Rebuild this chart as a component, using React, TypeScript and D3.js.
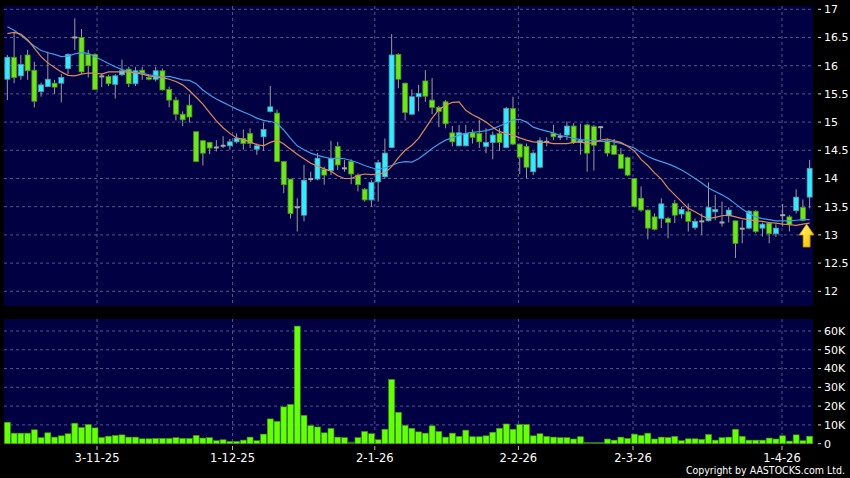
import * as d3 from 'd3';

// daily OHLC (index 0 = first bar on the left)
const opens = [
  15.76, 16.15, 15.82, 16.19, 15.92, 15.54, 15.63, 15.69, 15.69, 15.95,
  16.5, 16.5, 16.2, 16.2, 15.81, 15.81, 15.67, 15.84, 15.94, 15.68,
  15.92, 15.79, 15.76, 15.91, 15.58, 15.39, 15.14, 15.3, 14.83, 14.67,
  14.64, 14.55, 14.58, 14.58, 14.65, 14.71, 14.8, 14.52, 14.74, 15.19,
  15.16, 14.3, 13.99, 13.49, 13.35, 13.99, 13.99, 14.16, 14.14, 14.57,
  14.18, 14.3, 14.06, 13.81, 13.62, 13.94, 14.03, 14.55, 16.2, 15.69,
  15.14, 15.45, 15.73, 15.39, 15.26, 15.36, 14.81, 14.58, 14.58, 14.81,
  14.8, 14.57, 14.64, 14.8, 14.55, 15.24, 14.61, 14.57, 14.12, 14.2,
  14.65, 14.8, 14.74, 14.77, 14.93, 14.64, 14.95, 14.92, 14.91, 14.67,
  14.59, 14.43, 14.37, 14.0, 13.65, 13.44, 13.32, 13.29, 13.29, 13.56,
  13.37, 13.41, 13.13, 13.24, 13.25, 13.41, 13.22, 13.34, 13.25, 13.11,
  13.12, 13.42, 13.12, 13.21, 13.02, 13.35, 13.32, 13.43, 13.49, 13.67,
];
const highs = [
  16.19, 16.6, 16.19, 16.28, 16.07, 15.7, 16.25, 15.75, 15.85, 16.22,
  16.84, 16.65, 16.28, 16.22, 15.87, 15.84, 15.85, 16.11, 15.98, 15.98,
  15.98, 15.84, 15.98, 15.95, 15.63, 15.45, 15.19, 15.49, 14.83, 14.68,
  14.65, 14.68, 14.75, 14.7, 14.8, 14.87, 14.89, 14.62, 14.99, 15.64,
  15.22, 14.3, 13.99, 13.65, 14.24, 14.12, 14.45, 14.21, 14.67, 14.65,
  14.33, 14.34, 14.09, 13.83, 13.97, 14.33, 14.71, 16.56, 16.22, 15.7,
  15.58, 15.66, 15.92, 15.78, 15.29, 15.39, 14.93, 14.95, 14.95, 14.87,
  15.04, 14.89, 14.83, 14.89, 15.27, 15.45, 14.62, 14.62, 14.48, 14.73,
  14.73, 14.95, 14.81, 15.01, 14.98, 14.97, 14.97, 14.95, 14.92, 14.71,
  14.7, 14.54, 14.39, 14.0, 13.86, 13.45, 13.38, 13.65, 13.32, 13.62,
  13.5, 13.56, 13.29, 13.38, 13.93, 13.71, 13.59, 13.49, 13.25, 13.26,
  13.44, 13.44, 13.22, 13.22, 13.19, 13.55, 13.35, 13.81, 13.63, 14.33,
];
const lows = [
  15.39, 15.69, 15.75, 15.75, 15.26, 15.45, 15.62, 15.5, 15.35, 15.85,
  16.28, 15.85, 15.79, 15.57, 15.62, 15.64, 15.42, 15.82, 15.62, 15.64,
  15.75, 15.74, 15.72, 15.56, 15.26, 15.03, 14.93, 14.99, 14.3, 14.23,
  14.43, 14.48, 14.54, 14.51, 14.62, 14.51, 14.54, 14.42, 14.49, 15.17,
  14.3, 13.74, 13.29, 13.06, 13.24, 13.94, 13.97, 13.89, 14.06, 14.15,
  14.12, 13.9, 13.77, 13.59, 13.5, 13.59, 14.0, 14.54, 15.6, 15.03,
  15.13, 15.19, 15.36, 15.14, 14.91, 14.89, 14.57, 14.57, 14.57, 14.62,
  14.54, 14.45, 14.34, 14.49, 14.54, 14.59, 14.08, 14.0, 14.06, 14.18,
  14.57, 14.68, 14.68, 14.68, 14.61, 14.42, 14.12, 14.14, 14.7, 14.39,
  14.42, 14.18, 14.04, 13.49, 13.41, 12.92, 13.08, 13.12, 12.94, 13.21,
  13.29, 13.06, 13.09, 13.0, 13.24, 13.26, 13.15, 13.22, 12.59, 12.85,
  13.1, 13.03, 12.97, 12.85, 12.96, 13.15, 13.06, 13.38, 13.24, 13.47,
];
const closes = [
  16.15, 15.79, 16.02, 15.91, 15.37, 15.66, 15.76, 15.62, 15.79, 16.2,
  16.5, 15.89, 16.0, 15.58, 15.81, 15.68, 15.82, 15.91, 15.68, 15.91,
  15.87, 15.76, 15.91, 15.57, 15.39, 15.14, 15.04, 15.09, 14.3, 14.45,
  14.54, 14.55, 14.58, 14.65, 14.71, 14.62, 14.62, 14.58, 14.87, 15.27,
  14.3, 13.89, 13.38, 13.49, 13.97, 13.99, 14.36, 14.06, 14.36, 14.24,
  14.18, 14.08, 13.89, 13.62, 13.93, 14.28, 14.45, 16.19, 15.76, 15.17,
  15.45, 15.51, 15.46, 15.26, 15.19, 14.97, 14.65, 14.81, 14.8, 14.73,
  14.65, 14.64, 14.77, 14.64, 15.24, 14.61, 14.38, 14.2, 14.45, 14.67,
  14.65, 14.74, 14.74, 14.93, 14.64, 14.68, 14.45, 14.59, 14.91, 14.45,
  14.43, 14.18, 14.06, 13.5, 13.44, 13.12, 13.1, 13.55, 13.22, 13.35,
  13.45, 13.24, 13.24, 13.24, 13.49, 13.45, 13.22, 13.44, 12.85, 13.11,
  13.42, 13.06, 13.19, 13.02, 13.12, 13.35, 13.18, 13.67, 13.26, 14.18,
];

// moving averages as drawn (orange = short, blue = long)
const ma10 = [
  16.57, 16.59, 16.56, 16.46, 16.31, 16.16, 16.05, 15.97, 15.89, 15.83,
  15.82, 15.85, 15.87, 15.87, 15.85, 15.89, 15.89, 15.89, 15.89, 15.87,
  15.85, 15.82, 15.8, 15.79, 15.76, 15.72, 15.66, 15.56, 15.44, 15.32,
  15.17, 15.02, 14.9, 14.8, 14.72, 14.69, 14.65, 14.6, 14.58, 14.64,
  14.68, 14.61, 14.52, 14.43, 14.35, 14.27, 14.22, 14.17, 14.13, 14.05,
  14.0, 14.0, 14.05, 14.08, 14.07, 14.08, 14.1, 14.21, 14.37, 14.5,
  14.59, 14.71, 14.89, 15.07, 15.22, 15.3, 15.35, 15.36, 15.21, 15.13,
  15.07, 15.0, 14.91, 14.83, 14.8, 14.77, 14.72, 14.68, 14.65, 14.64,
  14.64, 14.62, 14.62, 14.62, 14.64, 14.65, 14.62, 14.64, 14.68, 14.7,
  14.67, 14.64, 14.57, 14.49, 14.34, 14.23, 14.1, 13.99, 13.83, 13.71,
  13.59, 13.47, 13.41, 13.34, 13.29, 13.31, 13.34, 13.35, 13.32, 13.29,
  13.27, 13.25, 13.24, 13.22, 13.21, 13.19, 13.18, 13.17, 13.19, 13.21,
];
const ma20 = [
  16.69, 16.63, 16.54, 16.44, 16.35, 16.27, 16.23, 16.2, 16.16, 16.17,
  16.21, 16.23, 16.22, 16.16, 16.1, 16.04, 15.98, 15.93, 15.9, 15.88,
  15.87, 15.84, 15.82, 15.8, 15.81, 15.78, 15.75, 15.74, 15.68, 15.57,
  15.48, 15.41, 15.35, 15.29, 15.23, 15.18, 15.13, 15.07, 15.03, 15.01,
  14.98, 14.86, 14.71, 14.58, 14.51, 14.45, 14.41, 14.38, 14.35, 14.36,
  14.35, 14.32, 14.28, 14.23, 14.19, 14.16, 14.19, 14.23, 14.28, 14.3,
  14.29, 14.35, 14.44, 14.53, 14.61, 14.68, 14.72, 14.77, 14.8, 14.82,
  14.83, 14.85, 14.88, 14.93, 14.98, 15.04, 15.05, 15.0, 14.91, 14.87,
  14.84, 14.81, 14.76, 14.74, 14.71, 14.69, 14.68, 14.67, 14.66, 14.66,
  14.65, 14.62, 14.58, 14.54, 14.46, 14.39, 14.34, 14.3, 14.26, 14.21,
  14.15, 14.08, 14.0, 13.92, 13.83, 13.77, 13.71, 13.64, 13.55, 13.46,
  13.38, 13.32, 13.29, 13.27, 13.25, 13.25, 13.25, 13.26, 13.27, 13.27,
];

// daily volume, thousands of shares
const volumes = [
  11.4, 5.6, 5.6, 5.6, 7.4, 3.2, 5.8, 3.5, 4.2, 5.3,
  10.9, 8.6, 10.2, 8.4, 3.3, 4.0, 4.4, 4.7, 3.5, 3.5,
  2.6, 2.6, 2.8, 2.8, 2.8, 3.2, 2.8, 2.8, 4.4, 3.0,
  3.2, 1.6, 2.1, 1.2, 1.2, 1.9, 3.5, 1.6, 5.1, 13.2,
  11.9, 19.6, 20.9, 62.6, 15.1, 9.6, 8.9, 5.8, 8.1, 3.5,
  3.2, 0.9, 3.2, 6.5, 5.3, 2.1, 7.7, 34.2, 16.7, 9.8,
  8.2, 6.3, 5.6, 9.5, 6.5, 3.5, 5.6, 3.9, 7.2, 3.7,
  3.7, 4.2, 6.1, 8.2, 10.5, 7.7, 10.2, 10.2, 4.2, 5.3,
  3.9, 3.5, 3.2, 3.2, 2.5, 3.7, 0.7, 0.7, 0.7, 2.5,
  1.9, 3.5, 2.8, 5.1, 4.4, 5.6, 2.5, 3.5, 3.3, 3.9,
  1.6, 2.6, 2.6, 2.3, 4.9, 1.9, 3.2, 3.5, 7.7, 3.9,
  1.9, 1.9, 1.9, 3.0, 2.5, 4.2, 1.4, 4.7, 1.6, 4.0,
];

const dateLabels = ['3-11-25', '1-12-25', '2-1-26', '2-2-26', '2-3-26', '1-4-26'];
const dateAt = [13.3, 33.4, 54.5, 75.8, 92.8, 114.9]; // bar position of each label
const priceTicks = [12, 12.5, 13, 13.5, 14, 14.5, 15, 15.5, 16, 16.5, 17];
const volTicks = [0, 10, 20, 30, 40, 50, 60];

const FONT = '"DejaVu Sans", Verdana, sans-serif';

export default function App() {
  const width = 850;
  const height = 478;
  const left = 4;
  const right = 813;
  const pTop = 6, pBot = 306;
  const vTop = 319, vBot = 444;

  const n = closes.length;
  const x = d3.scaleLinear().domain([-0.5, n - 0.5]).range([left, right]);
  const step = x(1) - x(0);
  const bw = step * 0.74;
  const y = d3.scaleLinear().domain([12, 17]).range([291.3, 9.3]);
  const yv = d3.scaleLinear().domain([0, 60]).range([443.7, 331]);

  const maLine = d3
    .line<number>()
    .x((_, i) => x(i))
    .y((d) => y(d));

  const last = n - 1;
  const ax = x(last - 0.45);
  const ay = y(ma10[last]) + 1;

  return (
    <svg
      width={width}
      height={height}
      style={{ position: 'fixed', left: 0, top: 0, background: '#000' }}
      fontFamily={FONT}
    >
      <defs>
        <linearGradient id="arrowFill" x1="0" x2="1" y1="0" y2="1">
          <stop offset="0" stopColor="#fff6b0" />
          <stop offset="0.45" stopColor="#ffdf30" />
          <stop offset="1" stopColor="#f2b400" />
        </linearGradient>
      </defs>
      <rect width={width} height={height} fill="#000" />

      {/* price panel */}
      <rect x={left} y={pTop} width={right - left} height={pBot - pTop} fill="#000042" />
      {priceTicks.map((t) => (
        <line key={t} x1={left} x2={right} y1={y(t)} y2={y(t)} stroke="#55558e" strokeDasharray="3,3" />
      ))}
      {dateAt.map((d, k) => (
        <line key={k} x1={x(d)} x2={x(d)} y1={pTop} y2={pBot} stroke="#55558e" strokeDasharray="3,3" />
      ))}

      {closes.map((c, i) => {
        const o = opens[i];
        const cx = x(i);
        const top = y(Math.max(o, c));
        const bot = y(Math.min(o, c));
        const up = c > o;
        return (
          <g key={i}>
            <line x1={cx} x2={cx} y1={y(highs[i])} y2={y(lows[i])} stroke="#9c9c9c" />
            {o === c ? (
              <line x1={cx - bw / 2} x2={cx + bw / 2} y1={top} y2={top} stroke="#a8a8a8" strokeWidth={2} />
            ) : (
              <rect
                x={cx - bw / 2}
                y={top}
                width={bw}
                height={Math.max(1.5, bot - top)}
                fill={up ? '#33eaff' : '#6ee41e'}
                stroke={up ? '#5a9aa6' : '#48961a'}
                strokeWidth={0.8}
              />
            )}
          </g>
        );
      })}

      <path d={maLine(ma20) ?? ''} fill="none" stroke="#3d9ee6" strokeWidth={1.2} />
      <path d={maLine(ma10) ?? ''} fill="none" stroke="#e0875a" strokeWidth={1.2} />

      {/* up arrow under the last bar */}
      <path
        transform={`translate(${ax},${ay})`}
        d="M0,0 L7.5,11 L3.5,11 L3.5,23 L-3.5,23 L-3.5,11 L-7.5,11 Z"
        fill="url(#arrowFill)"
        stroke="#c08a00"
        strokeWidth={0.8}
      />

      {/* price axis */}
      {priceTicks.map((t) => (
        <g key={t}>
          <line x1={818} x2={821} y1={y(t)} y2={y(t)} stroke="#ddd" />
          <text x={824} y={y(t)} dy="0.35em" fill="#fff" fontSize={11}>
            {t}
          </text>
        </g>
      ))}

      {/* volume panel */}
      <rect x={left} y={vTop} width={right - left} height={vBot - vTop} fill="#000042" />
      {volTicks.slice(1).map((t) => (
        <line key={t} x1={left} x2={right} y1={yv(t)} y2={yv(t)} stroke="#55558e" strokeDasharray="3,3" />
      ))}
      {dateAt.map((d, k) => (
        <line key={k} x1={x(d)} x2={x(d)} y1={vTop} y2={vBot} stroke="#55558e" strokeDasharray="3,3" />
      ))}
      {volumes.map((v, i) => (
        <rect
          key={i}
          x={x(i) - step * 0.44}
          y={yv(v)}
          width={step * 0.88}
          height={yv(0) - yv(v)}
          fill={v < 1 ? '#2e6a10' : '#66ff0a'}
          stroke="#3b9a08"
          strokeWidth={0.6}
        />
      ))}
      {volTicks.map((t) => (
        <g key={t}>
          <line x1={818} x2={821} y1={yv(t)} y2={yv(t)} stroke="#ddd" />
          <text x={824} y={yv(t)} dy="0.35em" fill="#fff" fontSize={11}>
            {t === 0 ? '0' : `${t}K`}
          </text>
        </g>
      ))}

      {/* date axis */}
      {dateAt.map((d, k) => (
        <g key={k}>
          <line x1={x(d)} x2={x(d)} y1={446} y2={450} stroke="#bbb" />
          <text x={x(d)} y={462} textAnchor="middle" fill="#fff" fontSize={11.5}>
            {dateLabels[k]}
          </text>
        </g>
      ))}

      <text x={845} y={474} textAnchor="end" fill="#fff" fontSize={10.5} fontFamily='"DejaVu Sans Condensed", "DejaVu Sans", sans-serif'>
        Copyright by AASTOCKS.com Ltd.
      </text>
    </svg>
  );
}
